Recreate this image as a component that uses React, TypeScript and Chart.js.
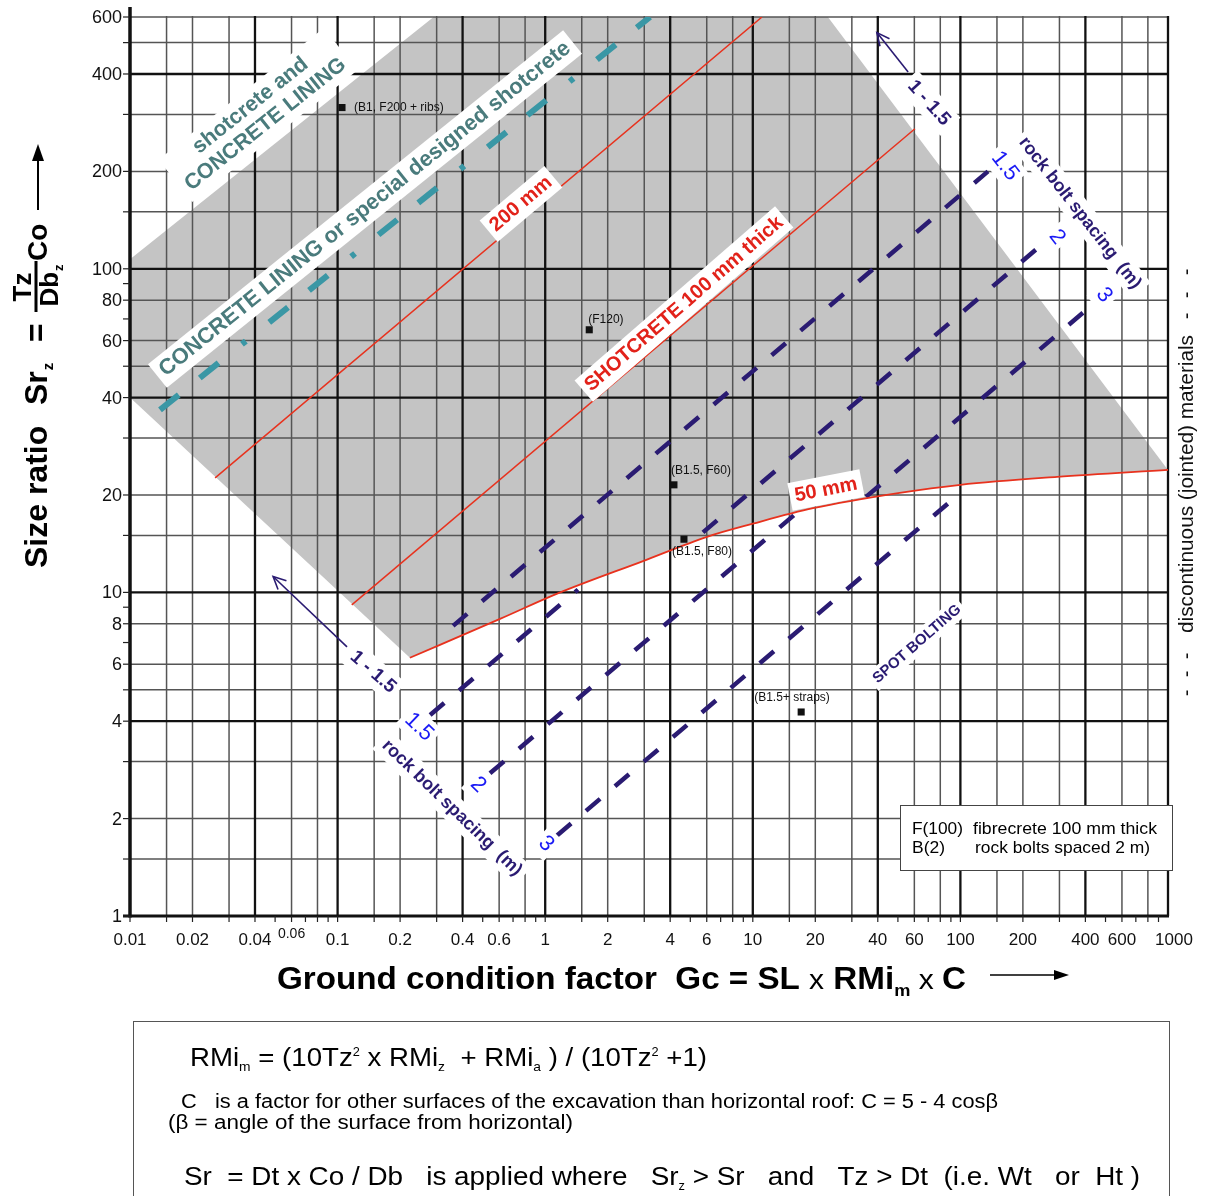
import React, { useEffect, useRef } from 'react';
import { Chart, registerables } from 'chart.js';

Chart.register(...registerables);

const FONT = '"Liberation Sans", Arial, Helvetica, sans-serif';

// ---------------- axes / ticks ----------------
const xTickValues = [0.01, 0.02, 0.04, 0.06, 0.1, 0.2, 0.4, 0.6, 1, 2, 4, 6, 10, 20, 40, 60, 100, 200, 400, 600, 1000];
const xTickLabels = ['0.01', '0.02', '0.04', '0.06', '0.1', '0.2', '0.4', '0.6', '1', '2', '4', '6', '10', '20', '40', '60', '100', '200', '400', '600', '1000'];
const yTickValues = [1, 2, 4, 6, 8, 10, 20, 40, 60, 80, 100, 200, 400, 600];
const yTickLabels = ['1', '2', '4', '6', '8', '10', '20', '40', '60', '80', '100', '200', '400', '600'];
const xGridMinor = [0.015, 0.02, 0.03, 0.06, 0.08, 0.15, 0.2, 0.3, 0.6, 0.8, 1.5, 2, 3, 6, 8, 15, 20, 30, 60, 80, 150, 200, 300, 600, 800];
const xGridMajor = [0.04, 0.1, 0.4, 1, 4, 10, 40, 100, 400, 1000];
const yGridMinor = [1.5, 2, 3, 5, 6, 8, 15, 20, 30, 50, 60, 80, 150, 200, 300, 500, 600];
const yGridMajor = [4, 10, 40, 100, 400];
const tickMultipliers = [1, 1.5, 2, 3, 4, 5, 6, 7, 8, 9];
const xDecades = [0.01, 0.1, 1, 10, 100];
const yDecades = [1, 10, 100];

// ---------------- series ----------------
// 50 mm shotcrete boundary (lower edge of shaded zone)
const curve50mm = [
  { x: 0.223, y: 6.28 }, { x: 0.606, y: 8.28 }, { x: 1.15, y: 9.93 }, { x: 2.96, y: 12.5 },
  { x: 6.02, y: 14.85 }, { x: 10, y: 16.3 }, { x: 19.5, y: 18.2 }, { x: 51, y: 20.3 },
  { x: 100, y: 21.5 }, { x: 292, y: 22.75 }, { x: 1000, y: 23.9 },
];
// remaining corners of the shaded zone (after the 50 mm curve)
const shadeCorners = [
  { x: 23, y: 600 }, { x: 0.29, y: 600 }, { x: 0.01, y: 107 }, { x: 0.01, y: 40 },
];
const thickness200mm = [{ x: 0.0257, y: 22.6 }, { x: 11.07, y: 600 }];
const thickness100mm = [{ x: 0.117, y: 9.15 }, { x: 60.4, y: 271 }];
const concreteLimit = [{ x: 0.01395, y: 36.65 }, { x: 3.2, y: 600 }];

// rock bolt spacing lines, shotcrete zone (1.5, 2, 3 m)
const boltShotcrete15 = [{ x: 0.36, y: 7.88 }, { x: 135.8, y: 200 }];
const boltShotcrete2 = [{ x: 5.755, y: 15.33 }, { x: 247.3, y: 118.9 }];
const boltShotcrete3 = [{ x: 35.1, y: 19.73 }, { x: 389.5, y: 73.15 }];
// rock bolt spacing lines, below 50 mm line (1.5, 2, 3 m)
const boltRock15 = [{ x: 0.279, y: 4.18 }, { x: 1.439, y: 10.2 }];
const boltRock2 = [{ x: 0.542, y: 2.76 }, { x: 16.88, y: 17.97 }];
const boltRock3 = [{ x: 1.14, y: 1.774 }, { x: 97.4, y: 20.0 }];

// "1 - 1.5" arrows (tail, tip)
const arrowLower = [{ x: 0.111, y: 6.79 }, { x: 0.0489, y: 11.2 }];
const arrowUpper = [{ x: 56, y: 406 }, { x: 39.6, y: 537 }];

// case examples
const pointLabels = ['(B1, F200 + ribs)', '(F120)', '(B1.5, F60)', '(B1.5, F80)', '(B1.5+ straps)'];
const pointGc = [0.105, 1.63, 4.17, 4.66, 17.1];
const pointSr = [315, 64.8, 21.5, 14.6, 4.27];

// ---------------- styles ----------------
const SHADE = '#c4c4c4';
const RED = '#e8321e';
const RED_TEXT = '#e2221a';
const TEAL = '#3a97a5';
const TEAL_TEXT = '#4a7b7c';
const NAVY = '#2a1b72';
const BLUE = '#1a1af5';

const CURVE_INDEX = 1;

function fontStr(size: number, bold = false) {
  return `${bold ? 'bold ' : ''}${size}px ${FONT}`;
}

function boxedText(ctx: any, lines: string[], cx: number, cy: number, angle: number, size: number, bold: boolean,
  color: string, bg: string | null, padX = 5, padY = 3, lineH = 0) {
  const lh = lineH || size * 1.1;
  ctx.save();
  ctx.translate(cx, cy);
  ctx.rotate((angle * Math.PI) / 180);
  ctx.font = fontStr(size, bold);
  const w = Math.max(...lines.map((l) => ctx.measureText(l).width));
  const h = lh * lines.length;
  if (bg) {
    ctx.fillStyle = bg;
    ctx.fillRect(-w / 2 - padX, -h / 2 - padY, w + 2 * padX, h + 2 * padY);
  }
  ctx.fillStyle = color;
  ctx.textAlign = 'center';
  ctx.textBaseline = 'middle';
  lines.forEach((l, i) => ctx.fillText(l, 0, -h / 2 + lh * (i + 0.5)));
  ctx.restore();
}

type Run = { t: string; s: number; b?: boolean; dy?: number };

function runsWidth(ctx: any, runs: Run[]) {
  let w = 0;
  for (const r of runs) {
    ctx.font = fontStr(r.s, !!r.b);
    w += ctx.measureText(r.t).width;
  }
  return w;
}

function drawRunsFit(ctx: any, runs: Run[], x: number, y: number, target: number, color = '#000') {
  const w = runsWidth(ctx, runs);
  const sx = target / w;
  ctx.save();
  ctx.translate(x, y);
  ctx.scale(sx, 1);
  ctx.fillStyle = color;
  ctx.textAlign = 'left';
  ctx.textBaseline = 'alphabetic';
  let cx = 0;
  for (const r of runs) {
    ctx.font = fontStr(r.s, !!r.b);
    ctx.fillText(r.t, cx, r.dy || 0);
    cx += ctx.measureText(r.t).width;
  }
  ctx.restore();
}

function arrowHead(ctx: any, tail: { x: number; y: number }, tip: { x: number; y: number }, len = 14, spread = 0.45) {
  const a = Math.atan2(tip.y - tail.y, tip.x - tail.x);
  ctx.beginPath();
  ctx.moveTo(tip.x - len * Math.cos(a - spread), tip.y - len * Math.sin(a - spread));
  ctx.lineTo(tip.x, tip.y);
  ctx.lineTo(tip.x - len * Math.cos(a + spread), tip.y - len * Math.sin(a + spread));
  ctx.stroke();
}

const backgroundPlugin = {
  id: 'backgroundGrid',
  beforeDraw(chart: any) {
    const ctx = chart.ctx;
    ctx.save();
    ctx.fillStyle = '#ffffff';
    ctx.fillRect(0, 0, chart.width, chart.height);
    ctx.restore();
  },
  beforeDatasetsDraw(chart: any) {
    const ctx = chart.ctx;
    const xs = chart.scales.x;
    const ys = chart.scales.y;
    const area = chart.chartArea;
    ctx.save();
    // shaded shotcrete zone
    ctx.beginPath();
    let ok = false;
    try {
      const line = chart.getDatasetMeta(CURVE_INDEX).dataset;
      line.updateControlPoints(area, 'x');
      line.path(ctx);
      ok = true;
    } catch (e) {
      ok = false;
    }
    if (!ok) {
      ctx.beginPath();
      curve50mm.forEach((p, i) => {
        const px = xs.getPixelForValue(p.x);
        const py = ys.getPixelForValue(p.y);
        if (i) ctx.lineTo(px, py); else ctx.moveTo(px, py);
      });
    }
    shadeCorners.forEach((p) => ctx.lineTo(xs.getPixelForValue(p.x), ys.getPixelForValue(p.y)));
    ctx.closePath();
    ctx.fillStyle = SHADE;
    ctx.fill();

    // grid
    const vline = (v: number, w: number, c: string) => {
      const x = xs.getPixelForValue(v);
      ctx.strokeStyle = c;
      ctx.lineWidth = w;
      ctx.beginPath();
      ctx.moveTo(x, area.top - 1);
      ctx.lineTo(x, area.bottom);
      ctx.stroke();
    };
    const hline = (v: number, w: number, c: string) => {
      const y = ys.getPixelForValue(v);
      ctx.strokeStyle = c;
      ctx.lineWidth = w;
      ctx.beginPath();
      ctx.moveTo(area.left, y);
      ctx.lineTo(area.right, y);
      ctx.stroke();
    };
    xGridMinor.forEach((v) => vline(v, 1.5, '#555555'));
    yGridMinor.forEach((v) => hline(v, 1.5, '#555555'));
    xGridMajor.forEach((v) => vline(v, 2.3, '#111111'));
    yGridMajor.forEach((v) => hline(v, 2.3, '#111111'));
    ctx.restore();
  },
};

const overlayPlugin = {
  id: 'overlay',
  afterDatasetsDraw(chart: any) {
    const ctx = chart.ctx;
    const xs = chart.scales.x;
    const ys = chart.scales.y;
    const area = chart.chartArea;
    const P = (p: { x: number; y: number }) => ({ x: xs.getPixelForValue(p.x), y: ys.getPixelForValue(p.y) });
    ctx.save();

    // arrow heads
    ctx.strokeStyle = NAVY;
    ctx.lineWidth = 1.6;
    arrowHead(ctx, P(arrowLower[0]), P(arrowLower[1]));
    arrowHead(ctx, P(arrowUpper[0]), P(arrowUpper[1]));

    // zone labels
    boxedText(ctx, ['shotcrete and', 'CONCRETE LINING'], 258, 115, -38.6, 21.5, true, TEAL_TEXT, '#fff', 6, 3, 24);
    boxedText(ctx, ['CONCRETE LINING or special designed shotcrete'], 365, 209, -38.8, 22, true, TEAL_TEXT, '#fff', 6, 3);
    boxedText(ctx, ['200 mm'], 521, 204, -40, 20, true, RED_TEXT, '#fff', 5, 3);
    boxedText(ctx, ['SHOTCRETE 100 mm thick'], 684, 304, -41, 20, true, RED_TEXT, '#fff', 5, 3);
    boxedText(ctx, ['50 mm'], 826, 490, -11, 20, true, RED_TEXT, '#fff', 5, 3);
    boxedText(ctx, ['SPOT BOLTING'], 917, 644, -41, 15, true, NAVY, '#fff', 4, 2);
    boxedText(ctx, ['rock bolt spacing  (m)'], 1080, 213, 52, 18, true, NAVY, '#fff', 5, 3);
    boxedText(ctx, ['rock bolt spacing  (m)'], 452, 808, 44, 18, true, NAVY, '#fff', 5, 3);
    boxedText(ctx, ['1 - 1.5'], 929, 103, 48, 19, true, NAVY, '#fff', 5, 3);
    boxedText(ctx, ['1 - 1.5'], 373, 672, 41, 19, true, NAVY, '#fff', 5, 3);
    const topNums = [[1005, 166], [1057, 237], [1104, 295]];
    const lowNums = [[419, 727], [478, 785], [546, 844]];
    ['1.5', '2', '3'].forEach((t, i) => {
      boxedText(ctx, [t], topNums[i][0], topNums[i][1], 52, 22, false, BLUE, '#fff', 4, 2);
      boxedText(ctx, [t], lowNums[i][0], lowNums[i][1], 44, 22, false, BLUE, '#fff', 4, 2);
    });

    // case labels
    const offs = [[12, 0], [-1, -10], [-3, -14], [-12, 12], [-47, -14]];
    ctx.fillStyle = '#111';
    ctx.font = fontStr(12);
    ctx.textAlign = 'left';
    ctx.textBaseline = 'middle';
    pointLabels.forEach((t, i) => {
      const px = xs.getPixelForValue(pointGc[i]);
      const py = ys.getPixelForValue(pointSr[i]);
      ctx.fillText(t, px + offs[i][0], py + offs[i][1]);
    });

    // legend box
    ctx.fillStyle = '#fff';
    ctx.fillRect(900, 805, 272, 65);
    ctx.strokeStyle = '#444';
    ctx.lineWidth = 1;
    ctx.strokeRect(900.5, 805.5, 272, 65);
    drawRunsFit(ctx, [{ t: 'F(100)', s: 17 }], 912, 834, 51);
    drawRunsFit(ctx, [{ t: 'fibrecrete 100 mm thick', s: 17 }], 973, 834, 184);
    drawRunsFit(ctx, [{ t: 'B(2)', s: 17 }], 912, 853, 33);
    drawRunsFit(ctx, [{ t: 'rock bolts spaced 2 m)', s: 17 }], 975, 853, 175);

    // axes lines
    ctx.strokeStyle = '#111';
    ctx.lineWidth = 3.5;
    ctx.beginPath();
    ctx.moveTo(area.left, 7);
    ctx.lineTo(area.left, area.bottom + 1.5);
    ctx.stroke();
    ctx.lineWidth = 3;
    ctx.beginPath();
    ctx.moveTo(123, area.bottom);
    ctx.lineTo(area.right + 1, area.bottom);
    ctx.stroke();
    // minor ticks
    ctx.lineWidth = 1.2;
    ctx.strokeStyle = '#222';
    xDecades.forEach((d) => tickMultipliers.forEach((m) => {
      const x = xs.getPixelForValue(d * m);
      ctx.beginPath(); ctx.moveTo(x, area.bottom); ctx.lineTo(x, area.bottom + 6); ctx.stroke();
    }));
    yDecades.forEach((d) => tickMultipliers.forEach((m) => {
      if (d * m > 600) return;
      const y = ys.getPixelForValue(d * m);
      ctx.beginPath(); ctx.moveTo(area.left - 7, y); ctx.lineTo(area.left, y); ctx.stroke();
    }));

    // tick labels
    ctx.fillStyle = '#111';
    ctx.textBaseline = 'middle';
    ctx.textAlign = 'center';
    xTickValues.forEach((v, i) => {
      const lab = xTickLabels[i];
      let x = xs.getPixelForValue(v);
      if (lab === '1000') x += 6;
      if (lab === '0.06') {
        ctx.font = fontStr(14);
        ctx.fillText(lab, x, 934);
      } else {
        ctx.font = fontStr(17);
        ctx.fillText(lab, x, 940);
      }
    });
    ctx.textAlign = 'right';
    ctx.font = fontStr(18);
    yTickValues.forEach((v, i) => {
      ctx.fillText(yTickLabels[i], 122, ys.getPixelForValue(v) + 1);
    });

    // right-side vertical note
    ctx.save();
    ctx.translate(1193, 633);
    ctx.rotate(-Math.PI / 2);
    drawRunsFit(ctx, [{ t: 'discontinuous (jointed) materials', s: 20 }], 0, 0, 298, '#111');
    ctx.fillStyle = '#111';
    ctx.font = fontStr(20);
    ctx.textAlign = 'center';
    ctx.textBaseline = 'alphabetic';
    [-23, -41, -60, 317, 338, 361].forEach((u) => ctx.fillText('-', u, 0));
    ctx.restore();

    // y-axis title (rotated)
    ctx.save();
    ctx.translate(47, 568);
    ctx.rotate(-Math.PI / 2);
    ctx.fillStyle = '#000';
    ctx.textAlign = 'left';
    ctx.textBaseline = 'alphabetic';
    ctx.font = fontStr(32, true);
    ctx.fillText('Size ratio', 0, 0);
    ctx.fillText('Sr', 163, 0);
    const srW = ctx.measureText('Sr').width;
    ctx.font = fontStr(15, true);
    ctx.fillText('z', 163 + srW + 1, 6);
    ctx.font = fontStr(32, true);
    ctx.fillText('=', 226, 0);
    ctx.font = fontStr(26, true);
    ctx.textAlign = 'center';
    ctx.fillText('Tz', 281, -16);
    ctx.textAlign = 'left';
    const dbW = ctx.measureText('Db').width;
    ctx.font = fontStr(13, true);
    const zW = ctx.measureText('z').width;
    const dStart = 282 - (dbW + zW) / 2;
    ctx.font = fontStr(26, true);
    ctx.fillText('Db', dStart, 11);
    ctx.font = fontStr(13, true);
    ctx.fillText('z', dStart + dbW + 1, 16);
    ctx.fillRect(256, -12.5, 51, 3);
    ctx.font = fontStr(28, true);
    ctx.fillText('Co', 307, 0);
    ctx.restore();
    // y-axis arrow
    ctx.strokeStyle = '#000';
    ctx.fillStyle = '#000';
    ctx.lineWidth = 2;
    ctx.beginPath(); ctx.moveTo(38, 210); ctx.lineTo(38, 158); ctx.stroke();
    ctx.beginPath(); ctx.moveTo(38, 144); ctx.lineTo(32, 161); ctx.lineTo(44, 161); ctx.closePath(); ctx.fill();

    // x-axis title
    drawRunsFit(ctx, [
      { t: 'Ground condition factor  Gc = SL ', s: 31, b: true },
      { t: 'x', s: 28 },
      { t: ' RMi', s: 31, b: true },
      { t: 'm', s: 17, b: true, dy: 7 },
      { t: ' x ', s: 28 },
      { t: 'C', s: 31, b: true },
    ], 277, 989, 689);
    ctx.lineWidth = 1.6;
    ctx.beginPath(); ctx.moveTo(990, 975); ctx.lineTo(1058, 975); ctx.stroke();
    ctx.beginPath(); ctx.moveTo(1069, 975); ctx.lineTo(1054, 970); ctx.lineTo(1054, 980); ctx.closePath(); ctx.fill();

    // formula box
    ctx.strokeStyle = '#555';
    ctx.lineWidth = 1;
    ctx.strokeRect(133.5, 1021.5, 1036, 200);
    drawRunsFit(ctx, [
      { t: 'RMi', s: 26 }, { t: 'm', s: 13, dy: 5 }, { t: ' = (10Tz', s: 26 }, { t: '2', s: 12, dy: -10 },
      { t: ' x RMi', s: 26 }, { t: 'z', s: 13, dy: 5 }, { t: '  + RMi', s: 26 }, { t: 'a', s: 13, dy: 5 },
      { t: ' ) / (10Tz', s: 26 }, { t: '2', s: 12, dy: -10 }, { t: ' +1)', s: 26 },
    ], 190, 1066, 517);
    drawRunsFit(ctx, [{ t: 'C   is a factor for other surfaces of the excavation than horizontal roof: C = 5 - 4 cosβ', s: 20 }], 181, 1108, 817);
    drawRunsFit(ctx, [{ t: '(β = angle of the surface from horizontal)', s: 20 }], 168, 1129, 405);
    drawRunsFit(ctx, [
      { t: 'Sr  = Dt x Co / Db   is applied where   Sr', s: 26 }, { t: 'z', s: 12, dy: 5 },
      { t: ' > Sr   and   Tz > Dt  (i.e. Wt   or  Ht )', s: 26 },
    ], 184, 1185, 956);

    ctx.restore();
  },
};

function lineDs(data: any[], color: string, width: number, dash: number[] = []) {
  return {
    data,
    showLine: true,
    borderColor: color,
    borderWidth: width,
    borderDash: dash,
    borderCapStyle: 'butt',
    pointRadius: 0,
    pointHoverRadius: 0,
    fill: false,
    tension: 0,
  };
}

export default function App() {
  const ref = useRef<HTMLCanvasElement>(null);
  useEffect(() => {
    const canvas = ref.current;
    if (!canvas) return;
    const navyDash = [18.5, 19.5];
    const chart = new Chart(canvas, {
      type: 'scatter',
      data: {
        datasets: [
          {
            data: pointGc.map((x, i) => ({ x, y: pointSr[i] })),
            showLine: false,
            pointStyle: 'rect',
            pointRadius: 5,
            backgroundColor: '#111',
            borderColor: '#111',
            borderWidth: 0,
          },
          { ...lineDs(curve50mm, RED, 1.8), cubicInterpolationMode: 'monotone' },
          lineDs(thickness200mm, RED, 1.5),
          lineDs(thickness100mm, RED, 1.5),
          lineDs(concreteLimit, TEAL, 6, [24, 27, 24, 30, 5, 30]),
          lineDs(boltShotcrete15, NAVY, 4.5, navyDash),
          lineDs(boltShotcrete2, NAVY, 4.5, navyDash),
          lineDs(boltShotcrete3, NAVY, 4.5, navyDash),
          lineDs(boltRock15, NAVY, 4.5, navyDash),
          lineDs(boltRock2, NAVY, 4.5, navyDash),
          lineDs(boltRock3, NAVY, 4.5, navyDash),
          lineDs(arrowLower, NAVY, 1.6),
          lineDs(arrowUpper, NAVY, 1.6),
        ] as any,
      },
      options: {
        responsive: false,
        maintainAspectRatio: false,
        animation: false,
        devicePixelRatio: 1,
        layout: { padding: { left: 130, right: 37, top: 17, bottom: 280 } },
        scales: {
          x: { type: 'logarithmic', min: 0.01, max: 1000, display: false, bounds: 'data' },
          y: { type: 'logarithmic', min: 1, max: 600, display: false, bounds: 'data' },
        },
        plugins: {
          legend: { display: false },
          tooltip: { enabled: false },
        },
        events: [],
      } as any,
      plugins: [backgroundPlugin, overlayPlugin],
    });
    return () => chart.destroy();
  }, []);
  return (
    <div style={{ position: 'absolute', left: 0, top: 0, width: 1205, height: 1196, background: '#fff' }}>
      <canvas ref={ref} width={1205} height={1196} style={{ width: 1205, height: 1196, display: 'block' }} />
    </div>
  );
}
